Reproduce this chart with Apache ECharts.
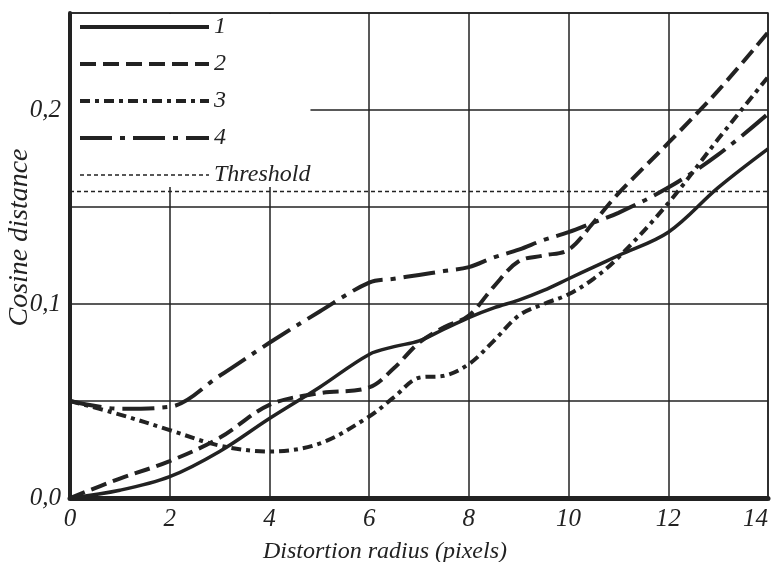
<!DOCTYPE html>
<html lang="en">
<head>
    <meta charset="UTF-8">
    <title>Cosine distance</title>
    <script src="https://cdn.jsdelivr.net/npm/echarts@6/dist/echarts.min.js"></script>
    <style>
        html, body { margin: 0; padding: 0; background: #fff; }
        #chart { width: 777px; height: 562px; }
    </style>
</head>
<body>
<div id="chart"></div>
<script>
    // distortion radius (pixels)
    var xs = [0, 1, 2, 3, 4, 5, 6, 6.5, 7, 7.5, 8, 8.5, 9, 9.5, 10, 10.5, 11, 12, 13, 14];
    var curve1 = [0, 0.004, 0.011, 0.024, 0.041, 0.057, 0.074, 0.078, 0.081, 0.087, 0.093, 0.098, 0.102, 0.107, 0.113, 0.119, 0.125, 0.137, 0.160, 0.180];
    var curve2 = [0, 0.010, 0.019, 0.031, 0.048, 0.054, 0.057, 0.067, 0.080, 0.088, 0.094, 0.109, 0.122, 0.125, 0.128, 0.142, 0.157, 0.183, 0.210, 0.240];
    var curve3 = [0.05, 0.043, 0.035, 0.027, 0.024, 0.028, 0.042, 0.052, 0.062, 0.063, 0.069, 0.081, 0.094, 0.100, 0.105, 0.113, 0.124, 0.152, 0.185, 0.217];
    var curve4 = [0.05, 0.046, 0.047, 0.063, 0.080, 0.096, 0.111, 0.113, 0.115, 0.117, 0.119, 0.124, 0.128, 0.133, 0.137, 0.142, 0.147, 0.160, 0.177, 0.198];
    var threshold = 0.158;
    var names = ['1', '2', '3', '4', 'Threshold'];

    var ink = '#222';
    var font = 'Liberation Serif';

    function pairs(ys) {
        return xs.map(function (x, i) { return [x, ys[i]]; });
    }

    function curve(name, ys, dash, width) {
        return {
            name: name,
            type: 'line',
            data: pairs(ys),
            symbol: 'none',
            smooth: 0.35,
            itemStyle: { color: ink },
            lineStyle: { color: ink, width: width, type: dash },
            z: 3
        };
    }

    var chart = echarts.init(document.getElementById('chart'));
    var option = {
        animation: false,
        backgroundColor: '#fff',
        grid: {
            left: 70, right: 9, top: 13, bottom: 64,
            outerBoundsMode: 'none',
            containLabel: false,
            show: true, borderColor: ink, borderWidth: 1.5
        },
        legend: {
            orient: 'vertical',
            left: 72,
            top: 14,
            padding: [1, 0, 0, 6],
            backgroundColor: '#fff',
            itemWidth: 129,
            itemHeight: 14,
            itemGap: 13,
            itemStyle: { opacity: 0 },
            data: names.map(function (n, i) {
                return { name: n, lineStyle: { width: i < 4 ? 4 : 1.5 } };
            }),
            textStyle: { fontFamily: font, fontStyle: 'italic', fontSize: 24, color: ink }
        },
        xAxis: {
            type: 'value',
            min: 0, max: 14, interval: 2,
            name: 'Distortion radius (pixels)',
            nameLocation: 'middle',
            nameGap: 42,
            nameMoveOverlap: false,
            nameTextStyle: { fontFamily: font, fontStyle: 'italic', fontSize: 24, color: ink, padding: [0, 68, 0, 0] },
            axisLine: { lineStyle: { color: ink, width: 5 } },
            axisTick: { show: false },
            axisLabel: { fontFamily: font, fontStyle: 'italic', fontSize: 25, color: ink, margin: 9, alignMaxLabel: 'right' },
            splitLine: { lineStyle: { color: ink, width: 1.5 } }
        },
        yAxis: {
            type: 'value',
            min: 0, max: 0.25, interval: 0.05,
            name: 'Cosine distance',
            nameLocation: 'middle',
            nameGap: 36,
            nameMoveOverlap: false,
            nameTextStyle: { fontFamily: font, fontStyle: 'italic', fontSize: 28, color: ink, padding: [0, 0, 0, 36] },
            axisLine: { show: true, lineStyle: { color: ink, width: 4 } },
            axisTick: { show: false },
            axisLabel: {
                fontFamily: font, fontStyle: 'italic', fontSize: 25, color: ink, margin: 9,
                formatter: function (v) {
                    if (v > 0.24) return '';
                    var t = v * 10;
                    return Math.abs(t - Math.round(t)) < 1e-6 ? v.toFixed(1).replace('.', ',') : '';
                }
            },
            splitLine: { lineStyle: { color: ink, width: 1.5 } }
        },
        series: [
            curve('1', curve1, 'solid', 3.5),
            curve('2', curve2, [16, 7], 4),
            curve('3', curve3, [10, 5, 4, 5], 4),
            curve('4', curve4, [32, 8, 5, 8], 4),
            {
                name: 'Threshold',
                type: 'line',
                data: [[0, threshold], [14, threshold]],
                symbol: 'none',
                itemStyle: { color: ink },
                lineStyle: { color: ink, width: 1.5, type: [4, 3] },
                z: 2
            }
        ]
    };
    chart.setOption(option);
</script>
</body>
</html>
